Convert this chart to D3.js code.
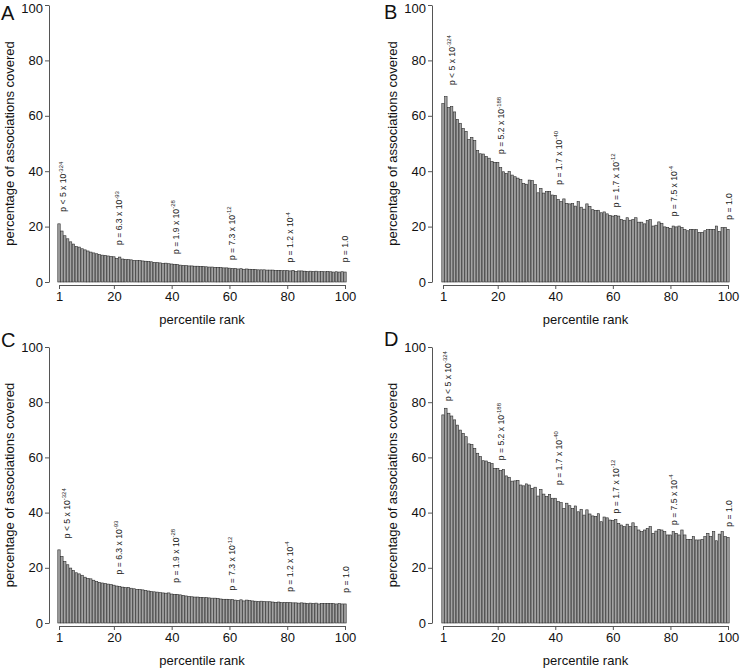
<!DOCTYPE html>
<html>
<head>
<meta charset="utf-8">
<script src="https://cdn.jsdelivr.net/npm/d3@7"></script>
<style>
  html, body { margin: 0; padding: 0; background: #fff; }
  svg { display: block; font-family: "Liberation Sans", Arial, Helvetica, sans-serif; }
</style>
</head>
<body>
<svg id="chart" width="741" height="669"></svg>
<script>
// ---------- data ----------
const ranks = d3.range(1, 101);
const xTicks = [1, 20, 40, 60, 80, 100];
const yTicks = [0, 20, 40, 60, 80, 100];

const valuesA = [21.0,18.4,16.7,15.6,14.5,13.7,12.8,12.6,12.0,11.6,
  11.2,10.8,10.5,10.2,9.9,9.7,9.6,9.4,9.2,9.1,
  8.5,9.0,8.3,8.2,8.1,8.0,7.8,7.7,7.7,7.6,
  7.5,7.4,7.3,7.1,7.0,6.9,6.7,6.8,6.6,6.5,
  6.4,6.3,6.1,6.0,5.9,5.8,5.8,5.7,5.7,5.6,
  5.6,5.5,5.4,5.4,5.3,5.3,5.2,5.1,5.1,5.0,
  4.9,4.9,4.7,4.8,4.6,4.7,4.6,4.5,4.5,4.4,
  4.4,4.4,4.3,4.3,4.3,4.1,4.2,4.1,4.1,4.1,
  4.0,4.2,3.8,4.0,4.0,3.9,3.8,3.9,3.8,3.9,
  3.7,3.8,3.7,3.8,3.7,3.6,3.7,3.6,3.7,3.6];

const valuesB = [64.4,66.9,63.0,63.3,61.4,58.7,57.3,55.4,54.4,51.4,
  52.2,51.1,47.5,46.3,46.2,45.3,44.7,43.5,43.2,43.2,
  41.3,39.8,39.2,39.9,38.6,38.0,37.5,37.0,35.5,35.3,
  36.8,36.6,35.2,32.2,33.8,32.1,32.6,32.7,31.4,31.3,
  29.8,29.0,30.0,28.4,28.2,28.3,27.4,29.0,27.0,26.3,
  28.2,27.3,26.1,25.8,25.9,25.0,25.3,24.6,24.0,23.8,
  24.0,23.8,22.6,22.3,23.2,22.3,22.5,23.2,21.6,21.6,
  21.0,22.2,22.5,20.2,20.5,21.7,21.2,19.9,19.7,19.4,
  20.2,19.9,20.2,19.7,18.9,18.5,19.0,19.0,18.9,17.9,
  17.9,18.5,18.9,19.0,19.0,20.2,18.2,19.7,19.7,19.0];

const valuesC = [26.5,24.1,22.3,21.1,19.9,19.0,18.2,17.8,17.3,16.6,
  16.1,16.0,15.5,15.0,14.7,14.5,14.3,14.1,13.9,13.7,
  13.4,13.2,13.0,12.8,12.9,12.6,12.4,12.2,12.1,12.0,
  11.8,11.6,11.4,11.3,11.2,11.0,10.9,10.8,10.9,10.5,
  10.4,10.4,10.2,10.0,9.8,9.6,9.5,9.4,9.4,9.3,
  9.2,9.2,9.1,9.0,9.0,8.9,8.7,8.6,8.6,8.5,
  8.5,8.3,8.2,8.4,8.0,8.3,8.1,8.0,7.9,7.8,
  7.9,7.8,7.7,7.7,7.6,7.5,7.6,7.4,7.5,7.5,
  7.4,7.3,7.3,7.2,7.3,7.2,7.1,7.2,7.1,7.2,
  6.9,7.1,7.0,7.1,7.0,7.0,6.9,7.0,6.9,6.9];

const valuesD = [75.4,77.8,76.0,75.0,73.6,71.7,69.9,68.7,67.5,64.9,
  64.7,63.3,61.5,60.3,58.8,58.7,58.2,57.8,56.0,56.0,
  55.2,55.6,53.3,52.8,51.4,51.5,51.7,50.0,49.7,50.4,
  50.0,48.8,49.2,46.0,48.4,46.7,45.8,46.6,45.2,45.2,
  44.0,43.6,41.5,43.4,42.5,41.5,42.4,40.3,41.2,39.1,
  41.0,39.5,38.8,38.6,39.6,36.7,38.4,38.1,37.3,37.1,
  37.5,36.1,35.5,34.9,35.8,34.9,36.3,34.9,33.7,33.1,
  33.7,34.3,34.9,32.5,33.3,33.9,33.7,33.1,31.9,31.9,
  33.1,32.5,31.9,33.7,31.9,30.3,30.3,31.3,30.1,30.1,
  30.3,31.3,32.5,31.3,33.1,29.8,32.2,33.1,31.3,31.0];

// annotation texts (main part, superscript exponent)
const annotMainAC = ["p < 5 x 10", "p = 6.3 x 10", "p = 1.9 x 10", "p = 7.3 x 10", "p = 1.2 x 10", "p = 1.0"];
const annotSupAC  = ["-324", "-93", "-28", "-12", "-4", ""];
const annotMainBD = ["p < 5 x 10", "p = 5.2 x 10", "p = 1.7 x 10", "p = 1.7 x 10", "p = 7.5 x 10", "p = 1.0"];
const annotSupBD  = ["-324", "-188", "-40", "-12", "-4", ""];
// annotation anchor positions (rank, value at text start)
const annotRankA = [2.5, 21.9, 41.5, 60.8, 81.0, 100.0];
const annotValA  = [25.4, 13.4, 10.1, 7.9, 7.0, 7.1];
const annotRankB = [4.1, 21.3, 41.3, 61.1, 81.1, 100.2];
const annotValB  = [71.1, 46.2, 35.1, 27.0, 23.7, 22.5];
const annotRankC = [3.7, 21.8, 41.4, 61.0, 80.9, 100.2];
const annotValC  = [30.7, 17.6, 14.6, 11.8, 11.3, 11.0];
const annotRankD = [2.7, 21.3, 41.3, 61.1, 81.1, 100.2];
const annotValD  = [80.4, 59.0, 50.0, 39.7, 35.5, 34.9];

const xTitle = "percentile rank";
const yTitle = "percentage of associations covered";

// ---------- layout ----------
const panels = [
  {letter: "A", values: valuesA, main: annotMainAC, sup: annotSupAC, aR: annotRankA, aV: annotValA,
   axisX: 49, x0: 59, x1: 345, yTop: 5, yBot: 282, lx: 1, ly: 20},
  {letter: "B", values: valuesB, main: annotMainBD, sup: annotSupBD, aR: annotRankB, aV: annotValB,
   axisX: 432, x0: 443, x1: 728, yTop: 5, yBot: 282, lx: 384, ly: 19},
  {letter: "C", values: valuesC, main: annotMainAC, sup: annotSupAC, aR: annotRankC, aV: annotValC,
   axisX: 49, x0: 59, x1: 345, yTop: 347, yBot: 623, lx: 1, ly: 347},
  {letter: "D", values: valuesD, main: annotMainBD, sup: annotSupBD, aR: annotRankD, aV: annotValD,
   axisX: 432, x0: 443, x1: 728, yTop: 347, yBot: 623, lx: 384, ly: 346}
];

const svg = d3.select("#chart");

panels.forEach(p => {
  const g = svg.append("g");
  const x = d3.scaleLinear().domain([1, 100]).range([p.x0, p.x1]);
  const y = d3.scaleLinear().domain([0, 100]).range([p.yBot, p.yTop]);
  const step = (p.x1 - p.x0) / 99;
  const bw = step / 1.2;

  // bars
  g.append("g").selectAll("rect")
    .data(ranks)
    .join("rect")
    .attr("x", d => x(d) - bw / 2)
    .attr("width", bw)
    .attr("y", d => y(p.values[d - 1]))
    .attr("height", d => y(0) - y(p.values[d - 1]))
    .attr("fill", "#a3a3a3")
    .attr("stroke", "#2a2a2a")
    .attr("stroke-width", 0.6);

  // y axis
  const ya = g.append("g")
    .attr("transform", `translate(${p.axisX},0)`)
    .call(d3.axisLeft(y).tickValues(yTicks).tickSize(4).tickSizeOuter(0).tickPadding(2));
  ya.selectAll("text").attr("font-size", 13).attr("fill", "#111")
    .attr("font-family", "Liberation Sans, Arial, sans-serif");
  if (p.yTop < 20) {
    ya.selectAll(".tick text").filter(d => d === 100).attr("dy", "0.55em");
  }
  ya.selectAll("path, line").attr("stroke", "#555");

  // x axis
  const xa = g.append("g")
    .attr("transform", `translate(0,${p.yBot + 3})`)
    .call(d3.axisBottom(x).tickValues(xTicks).tickSize(4).tickSizeOuter(0).tickPadding(3));
  xa.selectAll("text").attr("font-size", 13).attr("fill", "#111")
    .attr("font-family", "Liberation Sans, Arial, sans-serif");
  xa.selectAll("path, line").attr("stroke", "#555");

  // axis titles
  g.append("text")
    .attr("x", (p.x0 + p.x1) / 2)
    .attr("y", p.yBot + 42)
    .attr("text-anchor", "middle")
    .attr("font-size", 13)
    .attr("fill", "#111")
    .text(xTitle);

  g.append("text")
    .attr("transform", `translate(${p.axisX - 35},${(p.yTop + p.yBot) / 2}) rotate(-90)`)
    .attr("text-anchor", "middle")
    .attr("font-size", 13)
    .attr("fill", "#111")
    .text(yTitle);

  // panel letter
  g.append("text")
    .attr("x", p.lx)
    .attr("y", p.ly)
    .attr("font-size", 20)
    .attr("fill", "#111")
    .text(p.letter);

  // annotations
  p.main.forEach((m, i) => {
    const t = g.append("text")
      .attr("transform", `translate(${x(p.aR[i]) + 3},${y(p.aV[i])}) rotate(-90)`)
      .attr("font-size", 8.6)
      .attr("fill", "#222");
    t.append("tspan").text(m);
    if (p.sup[i]) {
      t.append("tspan").attr("dy", -3.6).attr("font-size", 6).text(p.sup[i]);
    }
  });
});
</script>
</body>
</html>
